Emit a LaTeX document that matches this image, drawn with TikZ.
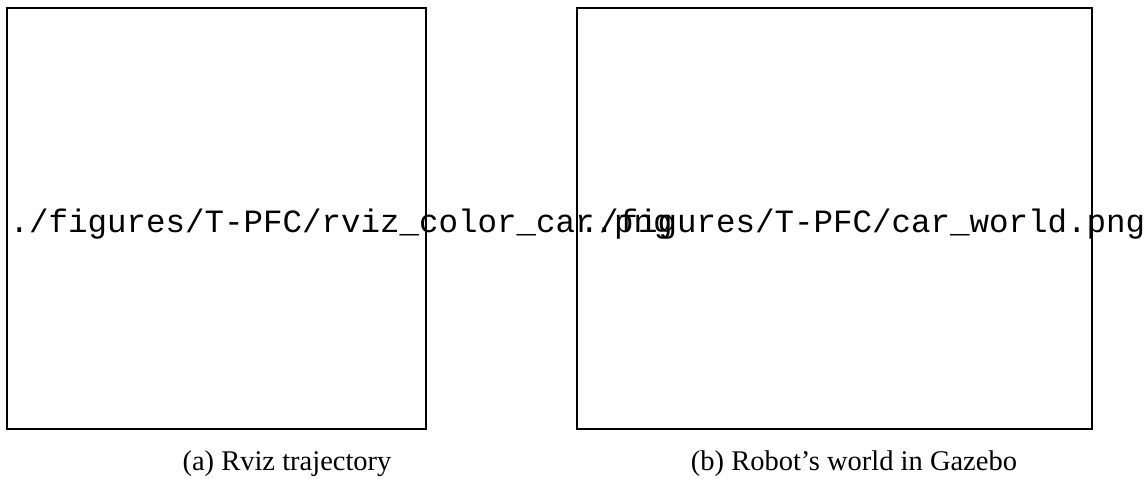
\documentclass[tikz,border=0pt]{standalone}
\usepackage{fontspec}
\setmainfont{Liberation Serif}
\setmonofont{Liberation Mono}
\begin{document}
\begin{tikzpicture}[x=0.3pt,y=-0.3pt,
  imgbox/.style={draw=black, line width=0.4pt, inner sep=0pt, outer sep=0pt, anchor=north west},
  fname/.style={font=\fontsize{9.75pt}{11pt}\ttfamily, inner sep=0pt, anchor=base west},
  captext/.style={font=\fontsize{8.55pt}{10pt}\selectfont, inner sep=0pt, anchor=base}]
\useasboundingbox (0,0) rectangle (1148,479);
\node[imgbox, minimum width=125.7pt, minimum height=126.3pt] (boxa) at (7,8) {};
\node[imgbox, minimum width=154.5pt, minimum height=126.3pt] (boxb) at (577,8) {};
\node[fname] (filea) at (9,233) {./figures/T-PFC/rviz\_color\_car.png};
\node[fname] (fileb) at (579,233) {./figures/T-PFC/car\_world.png};
\node[captext] (capa) at (287,471) {(a) Rviz trajectory};
\node[captext] (capb) at (854,471) {(b) Robot’s world in Gazebo};
\end{tikzpicture}
\end{document}
